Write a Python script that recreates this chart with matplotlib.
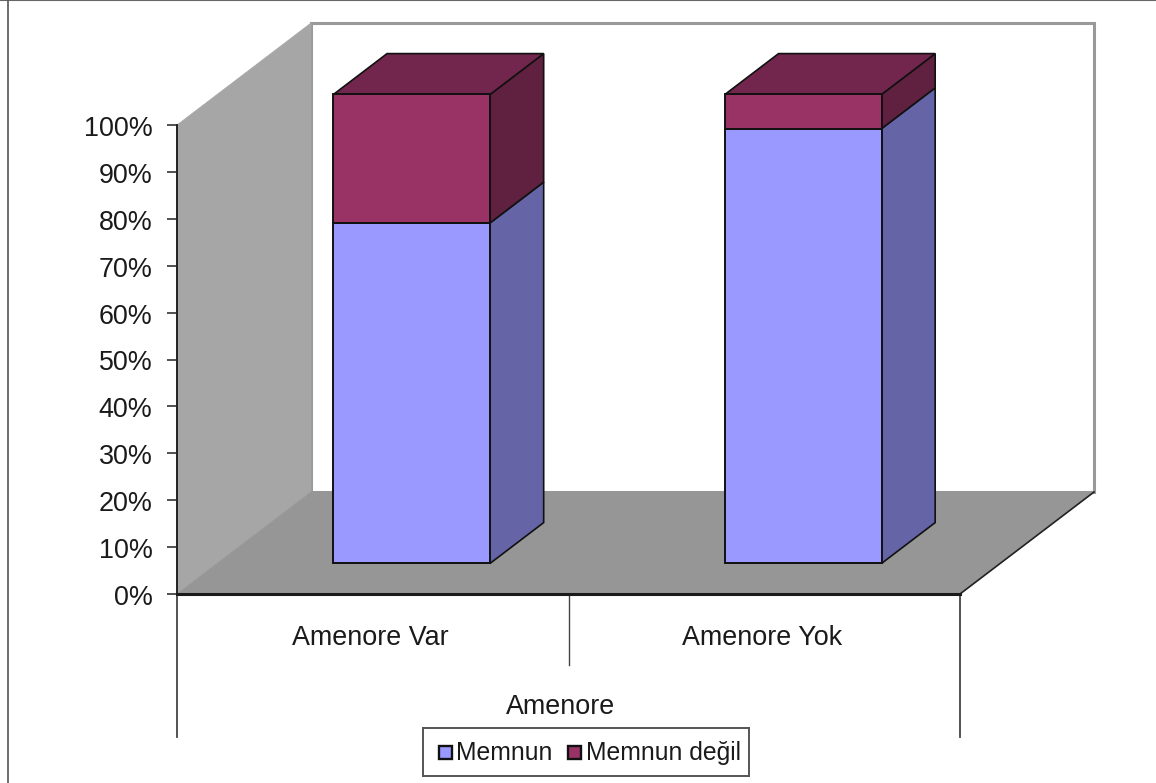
import matplotlib
matplotlib.use("Agg")
import matplotlib.pyplot as plt
from matplotlib.patches import Polygon, Rectangle
from matplotlib.ticker import FuncFormatter
from matplotlib.transforms import ScaledTranslation

plt.rcParams['font.family'] = ['Liberation Sans', 'DejaVu Sans']

categories = ["Amenore Var", "Amenore Yok"]
memnun = [72.6, 92.7]
memnun_degil = [27.4, 7.3]
series_names = ["Memnun", "Memnun değil"]
axis_title = "Amenore"
y_ticks = [0, 10, 20, 30, 40, 50, 60, 70, 80, 90, 100]

W, H = 1156, 783
BLUE = ("#9999FF", "#6464A6", "#6464A6")
RED = ("#993366", "#602040", "#73264D")
WALL = "#A6A6A6"
FLOOR = "#969696"
EDGE = "#111111"
TEXT = "#1a1a1a"

fig = plt.figure(figsize=(W / 100, H / 100), dpi=100, facecolor="white")
ax = fig.add_axes([177 / W, 1 - 594 / H, 783 / W, 469 / H])
ax.set_xlim(0, 2)
ax.set_ylim(0, 100)
ax.patch.set_alpha(0)

# Oblique projection: a full step into the depth of the chart
DX, DY = 134 / 391.5, 102 / 4.69


def project(x, y, d):
    return (x + d * DX, y + d * DY)


def face(pts, color, edge=None, lw=1.2, z=2):
    ax.add_patch(Polygon([project(*p) for p in pts], closed=True, facecolor=color,
                         edgecolor=edge if edge else color, linewidth=lw,
                         clip_on=False, zorder=z, joinstyle="miter"))


# Walls and floor
face([(0, 0, 1), (2, 0, 1), (2, 100, 1), (0, 100, 1)], "white", "#999999", 2.2, 1)
face([(0, 0, 0), (0, 0, 1), (0, 100, 1), (0, 100, 0)], WALL, None, 0.5, 1.1)
face([(0, 0, 0), (2, 0, 0), (2, 0, 1), (0, 0, 1)], FLOOR, None, 0.5, 1.2)
ax.plot(*zip(project(2, 0, 0), project(2, 0, 1)), color="#222222", lw=1.2,
        clip_on=False, zorder=1.3)


def box(x0, x1, y0, y1, colors, top=False, z=3):
    d0, d1 = 0.3, 0.7
    front, side, cap = colors
    face([(x1, y0, d0), (x1, y0, d1), (x1, y1, d1), (x1, y1, d0)], side, EDGE, 1.2, z)
    if top:
        face([(x0, y1, d0), (x1, y1, d0), (x1, y1, d1), (x0, y1, d1)], cap, EDGE, 1.2, z)
    face([(x0, y0, d0), (x1, y0, d0), (x1, y1, d0), (x0, y1, d0)], front, EDGE, 1.4, z + 0.1)


bar_width = 0.4
for i, (a, b) in enumerate(zip(memnun, memnun_degil)):
    left = i + 0.497 - bar_width / 2
    box(left, left + bar_width, 0, a, BLUE)
    box(left, left + bar_width, a, a + b, RED, top=True)

# Axes
for s in ("top", "right"):
    ax.spines[s].set_visible(False)
ax.spines["left"].set_linewidth(1.4)
ax.spines["left"].set_color("#222222")
ax.spines["bottom"].set_linewidth(2.2)
ax.spines["bottom"].set_color("#1a1a1a")
ax.spines["left"].set_zorder(5)
ax.spines["bottom"].set_zorder(5)
ax.set_yticks(y_ticks)
ax.yaxis.set_major_formatter(FuncFormatter(lambda v, _: f"{v:.0f}%"))
ax.tick_params(axis="y", labelsize=19.4, length=7.2, width=1.2, color="#333333",
               labelcolor=TEXT, pad=10.5)
shift_down = ScaledTranslation(0, -0.7 / 72, fig.dpi_scale_trans)
for label in ax.get_yticklabels():
    label.set_transform(label.get_transform() + shift_down)

# Category separators and labels below the floor
ax.set_xticks([])
trans = ax.get_xaxis_transform()
for x, bottom in ((0, -0.305), (1, -0.151), (2, -0.305)):
    ax.plot([x, x], [0, bottom], transform=trans, color="#444444",
            lw=1.3 if x != 1 else 1.0, clip_on=False, zorder=4)
for i, name in enumerate(categories):
    ax.text(i + 0.495, -0.094, name, transform=trans, ha="center", va="center",
            fontsize=19.4, color=TEXT)
ax.text(0.98, -0.241, axis_title, transform=trans, ha="center", va="center",
        fontsize=19.4, color=TEXT)

# Legend
leg_ax = fig.add_axes([423 / W, 1 - 776 / H, 326 / W, 48 / H])
leg_ax.set_xlim(423, 749)
leg_ax.set_ylim(776, 728)
leg_ax.set_xticks([])
leg_ax.set_yticks([])
for s in leg_ax.spines.values():
    s.set_color("#555555")
    s.set_linewidth(1.4)
for sx, tx, name, col in ((439, 456.5, series_names[0], BLUE[0]),
                          (568, 585.5, series_names[1], RED[0])):
    leg_ax.add_patch(Rectangle((sx, 745.5), 13, 13, facecolor=col, edgecolor="#111111", lw=1.7))
    leg_ax.text(tx, 752.5, name, ha="left", va="center", fontsize=17.8, color=TEXT)

# Thin frame along the top and left edges of the image
fig.add_artist(plt.Line2D([0, 1], [0.9995, 0.9995], color="#666666", lw=1.5))
fig.add_artist(plt.Line2D([7.5 / W, 7.5 / W], [0, 1], color="#555555", lw=1.2))

fig.savefig("out.png", dpi=100)
